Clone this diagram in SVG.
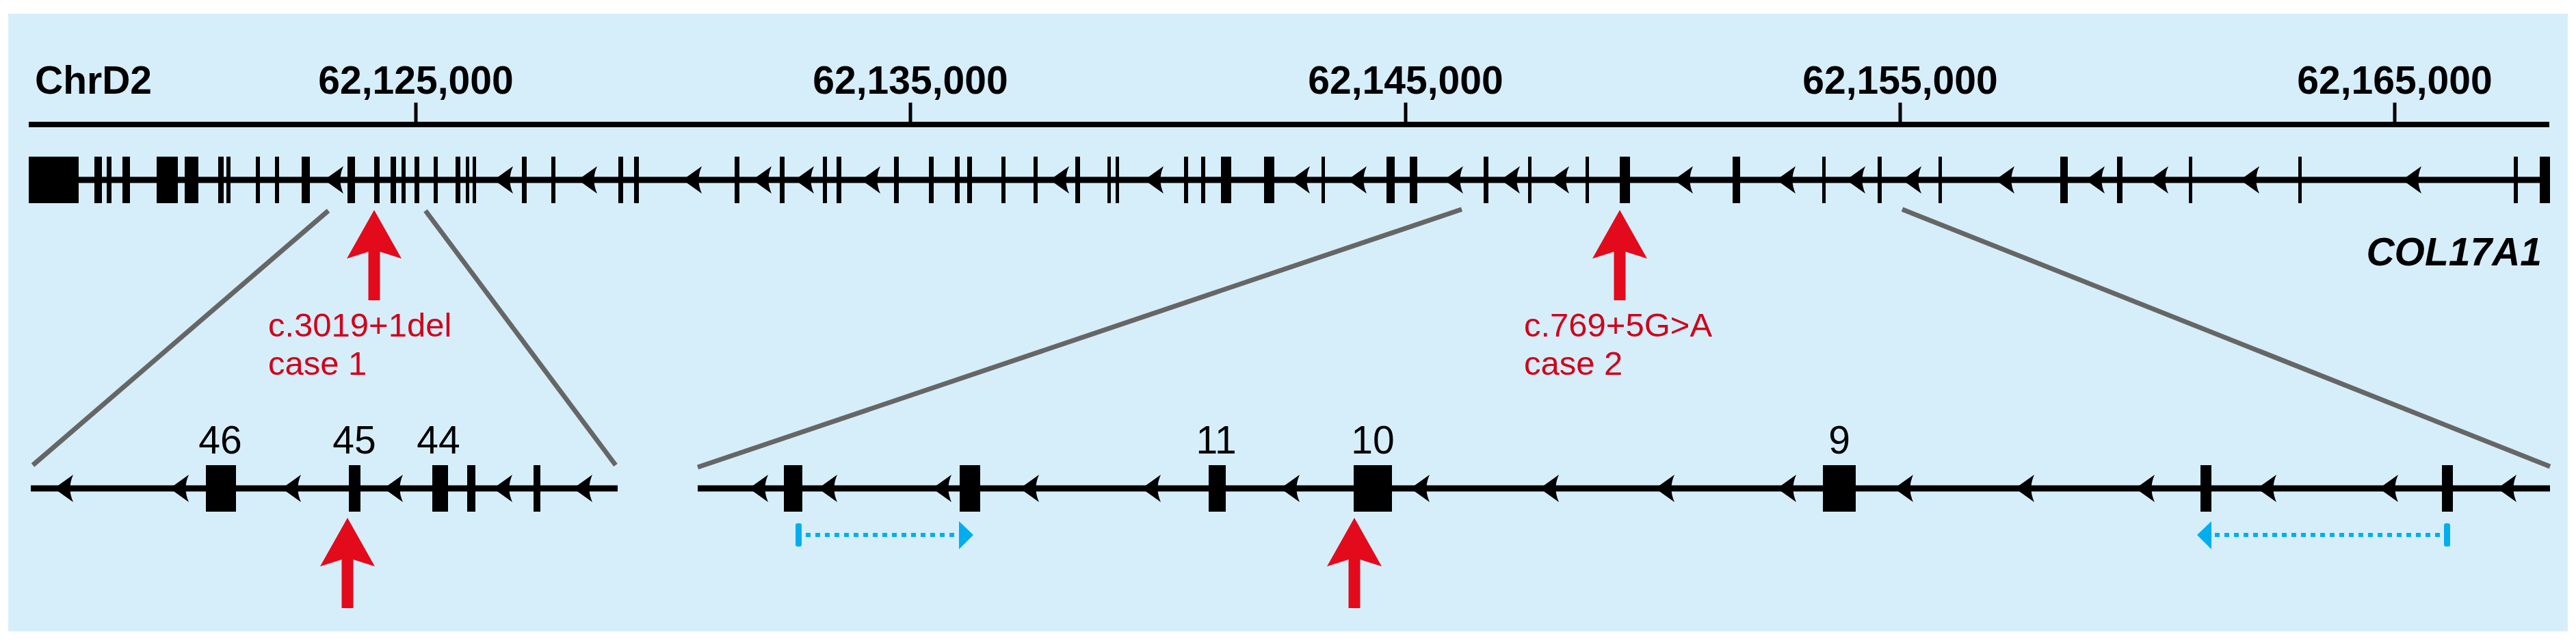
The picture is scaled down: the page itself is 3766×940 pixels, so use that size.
<svg xmlns="http://www.w3.org/2000/svg" xmlns:xlink="http://www.w3.org/1999/xlink" width="3766" height="940" viewBox="0 0 3766 940">
<style>
.bg{fill:#D6EEFA}
.ln{stroke:#000;stroke-width:9;fill:none}
.ex{fill:#000}
.zoom{stroke:#666;stroke-width:7;fill:none}
.tick{font-family:"Liberation Sans",Arial,sans-serif;font-weight:bold;font-size:57px;fill:#000}
.exl{font-family:"Liberation Sans",Arial,sans-serif;font-size:57px;fill:#000;text-anchor:middle}
.mut{font-family:"Liberation Sans",Arial,sans-serif;font-size:49px;fill:#D0021B}
.gene{font-family:"Liberation Sans",Arial,sans-serif;font-weight:bold;font-style:italic;font-size:57px;fill:#000;text-anchor:end}
.red{fill:#E30A1B}
.blue{fill:#00AEEF}
.dots{stroke:#00AEEF;stroke-width:6;stroke-dasharray:7 7;fill:none}
</style>
<defs>
<path id="ah" d="M0,0 L28,-20 Q19,0 28,20 Z" fill="#000"/>
<path id="ra" d="M0,0 L40,71 L8.5,61 L8.5,132 L-8.5,132 L-8.5,61 L-40,71 Z" fill="#E30A1B"/>
</defs>
<rect class="bg" x="12" y="20" width="3742" height="903"/>

<g id="axis">
<line x1="42" y1="182" x2="3727" y2="182" stroke="#000" stroke-width="8"/>
<g stroke="#000" stroke-width="5">
<line x1="608" y1="150" x2="608" y2="182"/>
<line x1="1331" y1="150" x2="1331" y2="182"/>
<line x1="2055" y1="150" x2="2055" y2="182"/>
<line x1="2778" y1="150" x2="2778" y2="182"/>
<line x1="3501" y1="150" x2="3501" y2="182"/>
</g>
<text class="tick" x="51" y="137">ChrD2</text>
<text class="tick" x="608" y="137" text-anchor="middle">62,125,000</text>
<text class="tick" x="1331" y="137" text-anchor="middle">62,135,000</text>
<text class="tick" x="2055" y="137" text-anchor="middle">62,145,000</text>
<text class="tick" x="2778" y="137" text-anchor="middle">62,155,000</text>
<text class="tick" x="3501" y="137" text-anchor="middle">62,165,000</text>
</g>

<g id="gene-full">
<line class="ln" x1="42" y1="263" x2="3728" y2="263"/>
<g class="ex">
<rect x="42" y="229" width="73" height="68"/>
<rect x="138" y="229" width="11" height="68"/>
<rect x="156" y="229" width="7" height="68"/>
<rect x="179" y="229" width="11" height="68"/>
<rect x="229" y="229" width="31" height="68"/>
<rect x="270" y="229" width="20" height="68"/>
<rect x="319" y="229" width="8" height="68"/>
<rect x="331" y="229" width="6" height="68"/>
<rect x="374" y="229" width="6" height="68"/>
<rect x="402" y="229" width="6" height="68"/>
<rect x="441" y="229" width="12" height="68"/>
<rect x="508" y="229" width="11" height="68"/>
<rect x="547" y="229" width="8" height="68"/>
<rect x="571" y="229" width="8" height="68"/>
<rect x="587" y="229" width="6" height="68"/>
<rect x="606" y="229" width="7" height="68"/>
<rect x="634" y="229" width="6" height="68"/>
<rect x="666" y="229" width="7" height="68"/>
<rect x="681" y="229" width="5" height="68"/>
<rect x="691" y="229" width="5" height="68"/>
<rect x="763" y="229" width="7" height="68"/>
<rect x="806" y="229" width="6" height="68"/>
<rect x="904" y="229" width="7" height="68"/>
<rect x="927" y="229" width="7" height="68"/>
<rect x="1074" y="229" width="7" height="68"/>
<rect x="1140" y="229" width="7" height="68"/>
<rect x="1203" y="229" width="6" height="68"/>
<rect x="1223" y="229" width="7" height="68"/>
<rect x="1307" y="229" width="7" height="68"/>
<rect x="1358" y="229" width="7" height="68"/>
<rect x="1396" y="229" width="7" height="68"/>
<rect x="1414" y="229" width="7" height="68"/>
<rect x="1464" y="229" width="6" height="68"/>
<rect x="1511" y="229" width="6" height="68"/>
<rect x="1572" y="229" width="7" height="68"/>
<rect x="1619" y="229" width="5" height="68"/>
<rect x="1631" y="229" width="5" height="68"/>
<rect x="1731" y="229" width="6" height="68"/>
<rect x="1756" y="229" width="6" height="68"/>
<rect x="1785" y="229" width="15" height="68"/>
<rect x="1848" y="229" width="15" height="68"/>
<rect x="1932" y="229" width="5" height="68"/>
<rect x="2027" y="229" width="12" height="68"/>
<rect x="2061" y="229" width="11" height="68"/>
<rect x="2169" y="229" width="7" height="68"/>
<rect x="2234" y="229" width="5" height="68"/>
<rect x="2318" y="229" width="5" height="68"/>
<rect x="2368" y="229" width="15" height="68"/>
<rect x="2533" y="229" width="11" height="68"/>
<rect x="2664" y="229" width="5" height="68"/>
<rect x="2745" y="229" width="6" height="68"/>
<rect x="2834" y="229" width="5" height="68"/>
<rect x="3012" y="229" width="11" height="68"/>
<rect x="3095" y="229" width="8" height="68"/>
<rect x="3200" y="229" width="5" height="68"/>
<rect x="3360" y="229" width="5" height="68"/>
<rect x="3675" y="229" width="6" height="68"/>
<rect x="3713" y="229" width="15" height="68"/>
</g>
<g>
<use xlink:href="#ah" x="474" y="263"/>
<use xlink:href="#ah" x="722" y="263"/>
<use xlink:href="#ah" x="845" y="263"/>
<use xlink:href="#ah" x="998" y="263"/>
<use xlink:href="#ah" x="1100" y="263"/>
<use xlink:href="#ah" x="1162" y="263"/>
<use xlink:href="#ah" x="1259" y="263"/>
<use xlink:href="#ah" x="1535" y="263"/>
<use xlink:href="#ah" x="1673" y="263"/>
<use xlink:href="#ah" x="1887" y="263"/>
<use xlink:href="#ah" x="1970" y="263"/>
<use xlink:href="#ah" x="2111" y="263"/>
<use xlink:href="#ah" x="2194" y="263"/>
<use xlink:href="#ah" x="2266" y="263"/>
<use xlink:href="#ah" x="2447" y="263"/>
<use xlink:href="#ah" x="2597" y="263"/>
<use xlink:href="#ah" x="2699" y="263"/>
<use xlink:href="#ah" x="2781" y="263"/>
<use xlink:href="#ah" x="2917" y="263"/>
<use xlink:href="#ah" x="3049" y="263"/>
<use xlink:href="#ah" x="3142" y="263"/>
<use xlink:href="#ah" x="3275" y="263"/>
<use xlink:href="#ah" x="3512" y="263"/>
</g>
<text class="gene" x="3716" y="388">COL17A1</text>
</g>

<g id="connectors">
<line class="zoom" x1="480" y1="308" x2="48" y2="680"/>
<line class="zoom" x1="622" y1="308" x2="900" y2="680"/>
<line class="zoom" x1="2137" y1="306" x2="1020" y2="683"/>
<line class="zoom" x1="2781" y1="306" x2="3728" y2="682"/>
</g>

<g id="mutation-1">
<use xlink:href="#ra" x="547" y="307"/>
<text class="mut" x="392" y="492">c.3019+1del</text>
<text class="mut" x="392" y="548">case 1</text>
</g>

<g id="mutation-2">
<use xlink:href="#ra" x="2368" y="307"/>
<text class="mut" x="2228" y="492">c.769+5G&gt;A</text>
<text class="mut" x="2228" y="548">case 2</text>
</g>

<g id="zoom-left">
<line class="ln" x1="45" y1="714" x2="903" y2="714"/>
<g class="ex">
<rect x="301" y="680" width="44" height="68"/>
<rect x="510" y="680" width="17" height="68"/>
<rect x="632" y="680" width="23" height="68"/>
<rect x="683" y="680" width="12" height="68"/>
<rect x="780" y="680" width="10" height="68"/>
</g>
<use xlink:href="#ah" x="79" y="714"/>
<use xlink:href="#ah" x="248" y="714"/>
<use xlink:href="#ah" x="412" y="714"/>
<use xlink:href="#ah" x="561" y="714"/>
<use xlink:href="#ah" x="721" y="714"/>
<use xlink:href="#ah" x="838" y="714"/>
<text class="exl" x="322" y="663">46</text>
<text class="exl" x="518" y="663">45</text>
<text class="exl" x="641" y="663">44</text>
<use xlink:href="#ra" x="508" y="757"/>
</g>

<g id="zoom-right">
<line class="ln" x1="1020" y1="714" x2="3728" y2="714"/>
<g class="ex">
<rect x="1146" y="680" width="27" height="68"/>
<rect x="1403" y="680" width="30" height="68"/>
<rect x="1767" y="680" width="25" height="68"/>
<rect x="1979" y="680" width="56" height="68"/>
<rect x="2665" y="680" width="48" height="68"/>
<rect x="3217" y="680" width="16" height="68"/>
<rect x="3570" y="680" width="16" height="68"/>
</g>
<use xlink:href="#ah" x="1095" y="714"/>
<use xlink:href="#ah" x="1196" y="714"/>
<use xlink:href="#ah" x="1363" y="714"/>
<use xlink:href="#ah" x="1491" y="714"/>
<use xlink:href="#ah" x="1669" y="714"/>
<use xlink:href="#ah" x="1872" y="714"/>
<use xlink:href="#ah" x="2062" y="714"/>
<use xlink:href="#ah" x="2251" y="714"/>
<use xlink:href="#ah" x="2420" y="714"/>
<use xlink:href="#ah" x="2598" y="714"/>
<use xlink:href="#ah" x="2769" y="714"/>
<use xlink:href="#ah" x="2946" y="714"/>
<use xlink:href="#ah" x="3122" y="714"/>
<use xlink:href="#ah" x="3300" y="714"/>
<use xlink:href="#ah" x="3478" y="714"/>
<use xlink:href="#ah" x="3651" y="714"/>
<text class="exl" x="1778" y="663">11</text>
<text class="exl" x="2007" y="663">10</text>
<text class="exl" x="2689" y="663">9</text>
<use xlink:href="#ra" x="1980" y="757"/>
</g>

<g id="blue-arrow-left">
<rect class="blue" x="1163" y="765" width="9" height="34" rx="3"/>
<line class="dots" x1="1178" y1="782" x2="1400" y2="782"/>
<path class="blue" d="M1402,762 L1423,782 L1402,803 Z"/>
</g>
<g id="blue-arrow-right">
<rect class="blue" x="3573" y="765" width="9" height="34" rx="3"/>
<line class="dots" x1="3567" y1="782" x2="3236" y2="782"/>
<path class="blue" d="M3233,762 L3212,782 L3233,803 Z"/>
</g>
</svg>
